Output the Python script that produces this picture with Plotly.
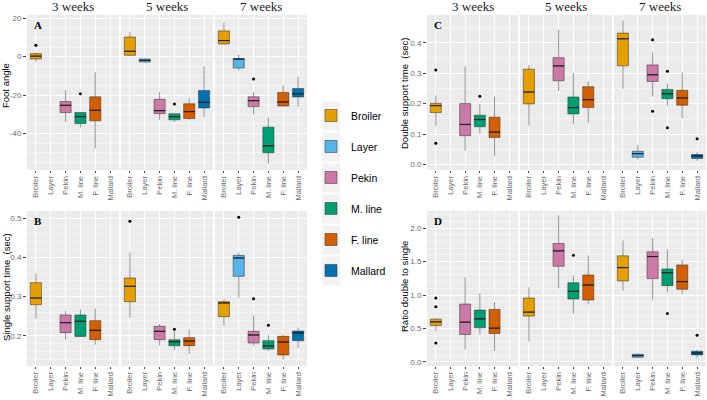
import plotly.graph_objects as go

# ---------------- data ----------------
categories = ["Broiler", "Layer", "Pekin", "M. line", "F. line", "Mallard"]
weeks = ["3 weeks", "5 weeks", "7 weeks"]
colors = ["#E69F00", "#56B4E9", "#CC79A7", "#009E73", "#D55E00", "#0072B2"]

# Panel A: Foot angle  (rows = weeks, columns = categories; None = no data)
foot_lower = [[-2.6, None, -34.0, -36.9, -47.8, None],
              [0.2, -3.0, -32.9, -34.0, -33.1, -31.5],
              [6.2, -7.1, -30.0, -55.7, -26.0, -26.0]]
foot_q1 = [[-1.2, None, -29.1, -34.8, -33.4, None],
           [0.7, -2.8, -29.7, -32.9, -32.2, -26.7],
           [6.6, -5.9, -26.0, -50.0, -25.7, -21.0]]
foot_med = [[0.3, None, -25.3, -31.2, -27.9, None],
            [2.8, -1.9, -28.1, -31.2, -28.6, -23.8],
            [8.4, -1.2, -22.9, -46.4, -23.6, -19.3]]
foot_q3 = [[1.6, None, -23.4, -29.1, -20.9, None],
           [10.2, -1.2, -22.2, -29.7, -24.5, -17.6],
           [13.4, -1.0, -20.9, -36.7, -18.6, -16.6]]
foot_upper = [[2.2, None, -17.4, -28.8, -8.1, None],
              [12.8, -1.0, -18.4, -29.5, -21.6, -5.0],
              [17.9, 1.0, -18.4, -31.7, -15.0, -10.5]]
foot_out = [[[5.9], [], [], [-19.3], [], []],
            [[], [], [], [-24.7], [], []],
            [[], [], [-11.6], [], [], []]]

# Panel B: Single support time (sec)
single_lower = [[0.244, None, 0.1915, 0.197, 0.178, None],
                [0.2466, None, 0.1754, 0.165, 0.155, None],
                [0.226, 0.2975, 0.1754, 0.162, 0.140, 0.1695]]
single_q1 = [[0.2797, None, 0.2085, 0.199, 0.1907, None],
             [0.2873, None, 0.1907, 0.1754, 0.1754, None],
             [0.249, 0.3517, 0.1822, 0.167, 0.1517, 0.1881]]
single_med = [[0.2966, None, 0.2339, 0.2373, 0.2144, None],
              [0.3263, None, 0.2119, 0.1856, 0.1873, None],
              [0.284, 0.3983, 0.2025, 0.1746, 0.1847, 0.2076]]
single_q3 = [[0.3356, None, 0.2534, 0.2534, 0.239, None],
             [0.3475, None, 0.2246, 0.1907, 0.1958, None],
             [0.2873, 0.405, 0.2119, 0.1881, 0.1992, 0.2127]]
single_upper = [[0.359, None, 0.2636, 0.2678, 0.2695, None],
                [0.4119, None, 0.2305, 0.212, 0.216, None],
                [0.293, 0.4119, 0.2525, 0.2025, 0.2025, 0.2212]]
single_out = [[[], [], [], [], [], []],
              [[0.4915], [], [], [0.217], [], []],
              [[], [0.5017], [0.2949], [0.227], [], []]]

# Panel C: Double support time (sec)
double_lower = [[0.127, None, 0.0457, 0.101, 0.029, None],
                [0.127, None, 0.242, 0.1337, 0.137, None],
                [0.249, 0.0174, 0.223, 0.1924, 0.152, 0.012]]
double_q1 = [[0.1707, None, 0.0946, 0.124, 0.089, None],
             [0.199, None, 0.275, 0.1663, 0.187, None],
             [0.324, 0.0239, 0.273, 0.2163, 0.1946, 0.0196]]
double_med = [[0.1935, None, 0.1315, 0.1478, 0.1065, None],
              [0.238, None, 0.324, 0.187, 0.213, None],
              [0.413, 0.0359, 0.2946, 0.2326, 0.2185, 0.0283]]
double_q3 = [[0.201, None, 0.200, 0.162, 0.1554, None],
             [0.313, None, 0.351, 0.2217, 0.2554, None],
             [0.4315, 0.0435, 0.327, 0.2467, 0.2435, 0.0326]]
double_upper = [[0.226, None, 0.3228, 0.199, 0.2228, None],
                [0.327, None, 0.442, 0.301, 0.2728, None],
                [0.4728, 0.064, 0.368, 0.2663, 0.302, 0.040]]
double_out = [[[0.31, 0.07], [], [], [0.224], [], []],
              [[], [], [], [], [], []],
              [[], [], [0.41, 0.175], [0.3065, 0.1207], [], [0.0848]]]

# Panel D: Ratio double to single
ratio_lower = [[0.46, None, 0.185, 0.41, 0.165, None],
               [0.305, None, 1.10, 0.725, 0.86, None],
               [1.065, 0.06, 0.93, 1.04, 1.015, 0.065]]
ratio_q1 = [[0.545, None, 0.41, 0.51, 0.425, None],
            [0.685, None, 1.43, 0.94, 0.925, None],
            [1.21, 0.07, 1.245, 1.14, 1.085, 0.105]]
ratio_med = [[0.60, None, 0.595, 0.645, 0.505, None],
             [0.745, None, 1.66, 1.055, 1.15, None],
             [1.41, 0.095, 1.575, 1.335, 1.20, 0.135]]
ratio_q3 = [[0.64, None, 0.865, 0.775, 0.785, None],
            [0.955, None, 1.77, 1.185, 1.30, None],
            [1.585, 0.115, 1.645, 1.39, 1.45, 0.16]]
ratio_upper = [[0.66, None, 1.265, 1.03, 0.895, None],
               [1.115, None, 2.19, 1.29, 1.59, None],
               [1.815, 0.13, 1.85, 1.68, 1.525, 0.18]]
ratio_out = [[[0.955, 0.825, 0.285], [], [], [], [], []],
             [[], [], [], [1.595], [], []],
             [[], [], [], [0.725], [], [0.40]]]

foot_ticks = [-40, -20, 0, 20]
single_ticks = [0.2, 0.3, 0.4, 0.5]
double_ticks = [0.0, 0.1, 0.2, 0.3, 0.4]
ratio_ticks = [0.0, 0.5, 1.0, 1.5, 2.0]

# ---------------- layout geometry ----------------
W, H = 707, 400
left_cols = [(27, 119), (121, 213), (215, 307)]
right_cols = [(427, 518), (520, 612), (614, 706)]
top_row = (15, 170)
bot_row = (211, 366)

panels = [
    dict(cols=left_cols, row=top_row, lo=foot_lower, q1=foot_q1, med=foot_med, q3=foot_q3,
         up=foot_upper, out=foot_out, rng=[-59.0, 21.7], ticks=foot_ticks,
         ticktext=["-40", "-20", "0", "20"], title="Foot angle", letter="A", tx=6, ty=86),
    dict(cols=left_cols, row=bot_row, lo=single_lower, q1=single_q1, med=single_med, q3=single_q3,
         up=single_upper, out=single_out, rng=[0.1237, 0.5178], ticks=single_ticks,
         ticktext=["0.2", "0.3", "0.4", "0.5"], title="Single support time  (sec)", letter="B",
         tx=6, ty=287),
    dict(cols=right_cols, row=top_row, lo=double_lower, q1=double_q1, med=double_med, q3=double_q3,
         up=double_upper, out=double_out, rng=[-0.018, 0.491], ticks=double_ticks,
         ticktext=["0.0", "0.1", "0.2", "0.3", "0.4"], title="Double support time  (sec)", letter="C",
         tx=404, ty=94),
    dict(cols=right_cols, row=bot_row, lo=ratio_lower, q1=ratio_q1, med=ratio_med, q3=ratio_q3,
         up=ratio_upper, out=ratio_out, rng=[-0.06, 2.255], ticks=ratio_ticks,
         ticktext=["0.0", "0.5", "1.0", "1.5", "2.0"], title="Ratio double to single", letter="D",
         tx=404, ty=287),
]

fig = go.Figure()
layout = {}
annotations = []
shapes = []
shown = set()
BW = 0.75
XTICKFONT = dict(family="Liberation Sans, Arial", size=7.5, color="#6b6b6b")
YTICKFONT = dict(family="Liberation Sans, Arial", size=8, color="#6b6b6b")

for p, P in enumerate(panels):
    y0, y1 = P["row"]
    for f in range(3):
        n = p * 3 + f + 1
        xs = "" if n == 1 else str(n)
        x0, x1 = P["cols"][f]
        layout["xaxis" + xs] = dict(
            domain=[x0 / W, x1 / W], anchor="y" + xs, range=[-0.6, 5.6],
            tickmode="array", tickvals=list(range(6)), ticktext=categories,
            tickangle=-90, tickfont=XTICKFONT, showgrid=True, gridcolor="white",
            gridwidth=1, zeroline=False, ticks="outside", ticklen=2, tickcolor="#444",
            tickwidth=0.8, showline=False, fixedrange=True, automargin=False,
            ticklabeloverflow="allow")
        ya = dict(
            domain=[1 - y1 / H, 1 - y0 / H], anchor="x" + xs, range=P["rng"],
            tickmode="array", tickvals=P["ticks"], ticktext=P["ticktext"],
            tickfont=YTICKFONT, showgrid=True, gridcolor="white", gridwidth=1,
            zeroline=False, showline=False, fixedrange=True, automargin=False,
            minor=dict(showgrid=True, gridcolor="#F4F4F4", gridwidth=0.6),
        )
        if f == 0:
            ya.update(ticks="outside", ticklen=3, tickcolor="#444", tickwidth=0.8, showticklabels=True)
        else:
            ya.update(ticks="", showticklabels=False)
        layout["yaxis" + xs] = ya

        mx, my = [], []
        ox, oy = [], []
        for c in range(6):
            if P["q1"][f][c] is None:
                continue
            first = categories[c] not in shown
            shown.add(categories[c])
            fig.add_trace(go.Box(
                x=[c], q1=[P["q1"][f][c]], median=[P["med"][f][c]], q3=[P["q3"][f][c]],
                lowerfence=[P["lo"][f][c]], upperfence=[P["up"][f][c]],
                width=BW, whiskerwidth=0, boxpoints=False,
                fillcolor=colors[c], line=dict(color="rgba(45,45,45,0.5)", width=1),
                name=categories[c], legendgroup=categories[c], legendrank=c + 1,
                showlegend=first, xaxis="x" + xs, yaxis="y" + xs, hoverinfo="skip"))
            mx += [c - BW / 2, c + BW / 2, None]
            my += [P["med"][f][c], P["med"][f][c], None]
            for v in P["out"][f][c]:
                ox.append(c)
                oy.append(v)
        fig.add_trace(go.Scatter(x=mx, y=my, mode="lines", line=dict(color="rgba(20,20,20,0.85)", width=1.2),
                                 showlegend=False, hoverinfo="skip", xaxis="x" + xs, yaxis="y" + xs))
        if ox:
            fig.add_trace(go.Scatter(x=ox, y=oy, mode="markers", marker=dict(color="black", size=3),
                                     showlegend=False, hoverinfo="skip", xaxis="x" + xs, yaxis="y" + xs))
        # facet strip titles on the top row
        if y0 == top_row[0]:
            annotations.append(dict(text=weeks[f], x=(x0 + x1) / 2 / W, y=1 - 6.5 / H, xref="paper",
                                    yref="paper", showarrow=False,
                                    font=dict(family="Liberation Serif, Times New Roman", size=13, color="#1a1a1a"),
                                    xanchor="center", yanchor="middle"))
    # panel letter
    annotations.append(dict(text="<b>%s</b>" % P["letter"], x=(P["cols"][0][0] + 11) / W,
                            y=1 - (y0 + 10) / H, xref="paper", yref="paper", showarrow=False,
                            font=dict(family="Liberation Serif, Times New Roman", size=11, color="black"),
                            xanchor="center", yanchor="middle"))
    # y-axis title
    annotations.append(dict(text=P["title"], x=P["tx"] / W, y=1 - P["ty"] / H, xref="paper", yref="paper",
                            showarrow=False, textangle=-90,
                            font=dict(family="Liberation Sans, Arial", size=9.5, color="black"),
                            xanchor="center", yanchor="middle"))

# light grey key backgrounds behind the legend glyphs (ggplot style)
for i in range(len(categories)):
    cy = 116 + 31 * i
    shapes.append(dict(type="rect", xref="paper", yref="paper", x0=322 / W, x1=340 / W,
                       y0=1 - (cy + 14.5) / H, y1=1 - (cy - 14.5) / H,
                       fillcolor="#F2F2F2", line=dict(width=0), layer="below"))

fig.update_layout(
    width=W, height=H, margin=dict(l=0, r=0, t=0, b=0, autoexpand=False),
    paper_bgcolor="white", plot_bgcolor="#EBEBEB",
    showlegend=True,
    legend=dict(x=311 / W, y=1 - 101 / H, xanchor="left", yanchor="top",
                font=dict(family="Liberation Sans, Arial", size=10.5, color="black"),
                bgcolor="rgba(0,0,0,0)", tracegroupgap=12, traceorder="grouped"),
    annotations=annotations,
    shapes=shapes,
    **layout,
)

fig.write_html("out.html", config={"displayModeBar": False},
               post_script="document.body.style.margin='0px';document.body.style.overflow='hidden';")
